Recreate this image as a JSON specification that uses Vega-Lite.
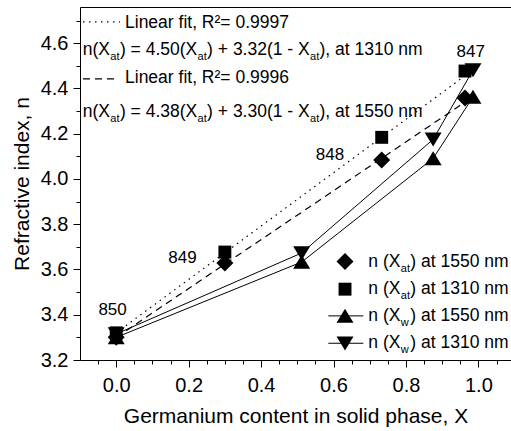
{
  "$schema": "https://vega.github.io/schema/vega-lite/v6.json",
  "width": 431,
  "height": 353,
  "autosize": "none",
  "padding": {"left": 80, "top": 7, "right": 0, "bottom": 71},
  "background": "white",
  "config": {
    "font": "Liberation Sans",
    "view": {"stroke": null},
    "axis": {
      "domainColor": "black", "tickColor": "black", "labelColor": "black", "titleColor": "black",
      "titleFontWeight": "normal", "grid": false, "labelFontSize": 20, "titleFontSize": 21,
      "domainWidth": 1, "tickWidth": 1, "labelOverlap": false, "labelFlush": false
    }
  },
  "datasets": {
    "pts": [
      {"series": "a1550", "x": 0, "n": 3.30},
      {"series": "a1550", "x": 0.30, "n": 3.629},
      {"series": "a1550", "x": 0.733, "n": 4.084},
      {"series": "a1550", "x": 0.963, "n": 4.358},
      {"series": "a1310", "x": 0, "n": 3.32},
      {"series": "a1310", "x": 0.30, "n": 3.677},
      {"series": "a1310", "x": 0.733, "n": 4.184},
      {"series": "a1310", "x": 0.963, "n": 4.477},
      {"series": "w1550", "x": 0, "n": 3.30},
      {"series": "w1550", "x": 0.512, "n": 3.633},
      {"series": "w1550", "x": 0.875, "n": 4.091},
      {"series": "w1550", "x": 0.985, "n": 4.362},
      {"series": "w1310", "x": 0, "n": 3.315},
      {"series": "w1310", "x": 0.512, "n": 3.673},
      {"series": "w1310", "x": 0.875, "n": 4.175},
      {"series": "w1310", "x": 0.985, "n": 4.481}
    ],
    "fits": [
      {"fit": "fit1310", "x": 0, "n": 3.32},
      {"fit": "fit1310", "x": 0.963, "n": 4.456},
      {"fit": "fit1550", "x": 0, "n": 3.30},
      {"fit": "fit1550", "x": 0.963, "n": 4.34}
    ],
    "ptlabels": [
      {"x": -0.010, "n": 3.421, "label": "850"},
      {"x": 0.183, "n": 3.651, "label": "849"},
      {"x": 0.590, "n": 4.106, "label": "848"},
      {"x": 0.979, "n": 4.563, "label": "847"}
    ],
    "fitkey": [
      {"fit": "fit1310", "x": -0.0917, "x2": 0.0105, "n": 4.694},
      {"fit": "fit1550", "x": -0.0917, "x2": 0.002, "n": 4.442}
    ],
    "fittext": [
      {"x": 0.0243, "n": 4.666, "text": "Linear fit, R²= 0.9997"},
      {"x": 0.0243, "n": 4.423, "text": "Linear fit, R²= 0.9996"}
    ],
    "eq": [
      {"x": -0.0925, "n": 4.548, "s1": "n(X", "s2": ") = 4.50(X", "s3": ") + 3.32(1 - X", "s4": "), at 1310 nm", "sub": "at"},
      {"x": -0.0925, "n": 4.275, "s1": "n(X", "s2": ") = 4.38(X", "s3": ") + 3.30(1 - X", "s4": "), at 1550 nm", "sub": "at"}
    ],
    "key": [
      {"series": "a1550", "x": 0.6317, "n": 3.635, "s1": "n (X", "s2": ") at 1550 nm", "sub": "at"},
      {"series": "a1310", "x": 0.6317, "n": 3.513, "s1": "n (X", "s2": ") at 1310 nm", "sub": "at"},
      {"series": "w1550", "x": 0.6317, "x1": 0.5856, "x2": 0.6822, "n": 3.395, "s1": "n (X", "s2": ") at 1550 nm", "sub": "w"},
      {"series": "w1310", "x": 0.6317, "x1": 0.5856, "x2": 0.6822, "n": 3.274, "s1": "n (X", "s2": ") at 1310 nm", "sub": "w"}
    ]
  },
  "encoding": {
    "x": {"field": "x", "type": "quantitative", "scale": {"domain": [-0.1, 1.09], "nice": false, "zero": false}, "axis": null},
    "y": {"field": "n", "type": "quantitative", "scale": {"domain": [3.2, 4.76], "nice": false, "zero": false}, "axis": null}
  },
  "layer": [
    {
      "data": {"name": "fits"},
      "mark": {"type": "line", "color": "black", "strokeWidth": 1.2},
      "encoding": {
        "x": {"field": "x", "type": "quantitative", "scale": {"domain": [-0.1, 1.09], "nice": false, "zero": false},
          "axis": {"orient": "top", "ticks": false, "labels": false, "title": null, "domain": true}},
        "strokeDash": {"field": "fit", "type": "nominal", "scale": {"domain": ["fit1310", "fit1550"], "range": [[1.5, 4.5], [7, 5]]}, "legend": null}
      }
    },
    {
      "data": {"name": "pts"},
      "transform": [{"filter": {"field": "series", "oneOf": ["w1550", "w1310"]}}],
      "mark": {"type": "line", "color": "black", "strokeWidth": 1},
      "encoding": {"detail": {"field": "series", "type": "nominal"}}
    },
    {
      "data": {"name": "pts"},
      "mark": {"type": "point", "filled": true, "color": "black", "opacity": 1, "size": 289},
      "encoding": {
        "x": {"field": "x", "type": "quantitative", "scale": {"domain": [-0.1, 1.09], "nice": false, "zero": false},
          "axis": {
            "orient": "bottom",
            "title": "Germanium content in solid phase, X",
            "values": [-0.05, 0, 0.05, 0.1, 0.15, 0.2, 0.25, 0.3, 0.35, 0.4, 0.45, 0.5, 0.55, 0.6, 0.65, 0.7, 0.75, 0.8, 0.85, 0.9, 0.95, 1, 1.05],
            "labelExpr": "abs(round(datum.value*20)) % 4 == 0 ? format(datum.value, '.1f') : ''",
            "tickSize": {"condition": {"test": "abs(round(datum.value*20)) % 4 == 0", "value": 7}, "value": 4},
            "labelPadding": 8,
            "titlePadding": 10
          }},
        "y": {"field": "n", "type": "quantitative", "scale": {"domain": [3.2, 4.76], "nice": false, "zero": false},
          "axis": {
            "orient": "left",
            "title": "Refractive index, n",
            "values": [3.2, 3.3, 3.4, 3.5, 3.6, 3.7, 3.8, 3.9, 4.0, 4.1, 4.2, 4.3, 4.4, 4.5, 4.6, 4.7],
            "labelExpr": "abs(round(datum.value*10)) % 2 == 0 ? format(datum.value, '.1f') : ''",
            "tickSize": {"condition": {"test": "abs(round(datum.value*10)) % 2 == 0", "value": 7}, "value": 4},
            "labelPadding": 5,
            "titlePadding": 8
          }},
        "shape": {"field": "series", "type": "nominal", "legend": null,
          "scale": {"domain": ["a1550", "a1310", "w1550", "w1310"],
            "range": ["M0,-1L1,0L0,1L-1,0Z", "M-0.76,-0.76L0.76,-0.76L0.76,0.76L-0.76,0.76Z", "M0,-0.85L1,0.8L-1,0.8Z", "M0,0.85L1,-0.8L-1,-0.8Z"]}}
      }
    },
    {
      "data": {"name": "ptlabels"},
      "mark": {"type": "text", "color": "black", "fontSize": 17, "align": "center", "baseline": "middle"},
      "encoding": {"text": {"field": "label", "type": "nominal"}}
    },
    {
      "data": {"name": "fitkey"},
      "mark": {"type": "rule", "color": "black", "strokeWidth": 1.2},
      "encoding": {
        "x2": {"field": "x2"},
        "strokeDash": {"field": "fit", "type": "nominal", "scale": {"domain": ["fit1310", "fit1550"], "range": [[1.5, 4.5], [7, 5]]}, "legend": null}
      }
    },
    {
      "data": {"name": "fittext"},
      "mark": {"type": "text", "color": "black", "fontSize": 17.5, "align": "left", "baseline": "alphabetic"},
      "encoding": {"text": {"field": "text", "type": "nominal"}}
    },
    {
      "data": {"name": "eq"},
      "mark": {"type": "text", "color": "black", "fontSize": 17.5, "align": "left", "baseline": "alphabetic"},
      "encoding": {"text": {"field": "s1", "type": "nominal"}}
    },
    {
      "data": {"name": "eq"},
      "mark": {"type": "text", "color": "black", "fontSize": 11, "align": "left", "baseline": "alphabetic", "dx": 27.6, "dy": 5},
      "encoding": {"text": {"field": "sub", "type": "nominal"}}
    },
    {
      "data": {"name": "eq"},
      "mark": {"type": "text", "color": "black", "fontSize": 17.5, "align": "left", "baseline": "alphabetic", "dx": 37.2},
      "encoding": {"text": {"field": "s2", "type": "nominal"}}
    },
    {
      "data": {"name": "eq"},
      "mark": {"type": "text", "color": "black", "fontSize": 11, "align": "left", "baseline": "alphabetic", "dx": 114.8, "dy": 5},
      "encoding": {"text": {"field": "sub", "type": "nominal"}}
    },
    {
      "data": {"name": "eq"},
      "mark": {"type": "text", "color": "black", "fontSize": 17.5, "align": "left", "baseline": "alphabetic", "dx": 124.4},
      "encoding": {"text": {"field": "s3", "type": "nominal"}}
    },
    {
      "data": {"name": "eq"},
      "mark": {"type": "text", "color": "black", "fontSize": 11, "align": "left", "baseline": "alphabetic", "dx": 227.3, "dy": 5},
      "encoding": {"text": {"field": "sub", "type": "nominal"}}
    },
    {
      "data": {"name": "eq"},
      "mark": {"type": "text", "color": "black", "fontSize": 17.5, "align": "left", "baseline": "alphabetic", "dx": 236.8},
      "encoding": {"text": {"field": "s4", "type": "nominal"}}
    },
    {
      "data": {"name": "key"},
      "transform": [{"filter": {"field": "series", "oneOf": ["w1550", "w1310"]}}],
      "mark": {"type": "rule", "color": "black", "strokeWidth": 1},
      "encoding": {
        "x": {"field": "x1", "type": "quantitative"},
        "x2": {"field": "x2"}
      }
    },
    {
      "data": {"name": "key"},
      "mark": {"type": "point", "filled": true, "color": "black", "opacity": 1, "size": 289},
      "encoding": {
        "shape": {"field": "series", "type": "nominal", "legend": null}
      }
    },
    {
      "data": {"name": "key"},
      "mark": {"type": "text", "color": "black", "fontSize": 17.5, "align": "left", "baseline": "middle", "dx": 23.3},
      "encoding": {"text": {"field": "s1", "type": "nominal"}}
    },
    {
      "data": {"name": "key"},
      "mark": {"type": "text", "color": "black", "fontSize": 11, "align": "left", "baseline": "middle", "dx": 55.8, "dy": 7},
      "encoding": {"text": {"field": "sub", "type": "nominal"}}
    },
    {
      "data": {"name": "key"},
      "mark": {"type": "text", "color": "black", "fontSize": 17.5, "align": "left", "baseline": "middle", "dx": 65.3},
      "encoding": {"text": {"field": "s2", "type": "nominal"}}
    }
  ],
  "resolve": {"axis": {"x": "independent", "y": "independent"}}
}
